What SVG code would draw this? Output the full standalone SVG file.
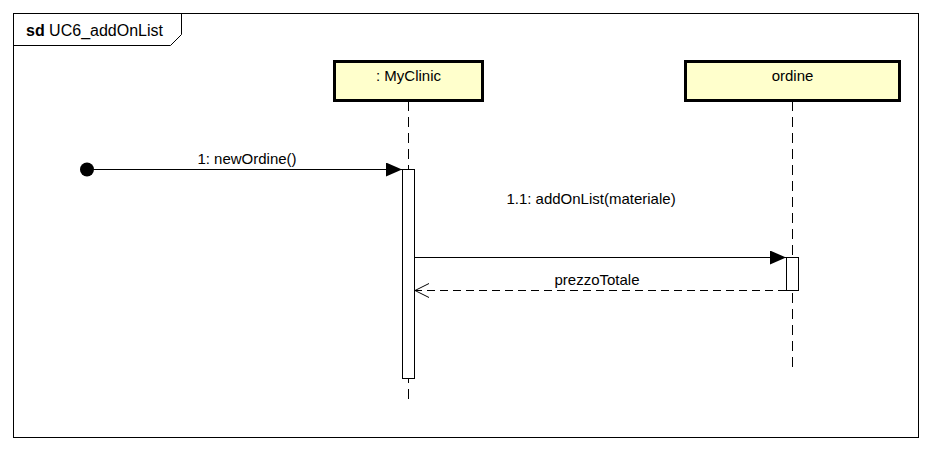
<svg xmlns="http://www.w3.org/2000/svg" width="932" height="452" viewBox="0 0 932 452">
<style>
text{font-family:"Liberation Sans",Arial,sans-serif;font-size:15px;fill:#000}
.box{fill:#ffffcc;stroke:#000;stroke-width:3}
.life{stroke:#000;stroke-width:1;stroke-dasharray:10,6;fill:none}
.act{fill:#fff;stroke:#000;stroke-width:1}
.msg{stroke:#000;stroke-width:1;fill:none}
.ret{stroke:#000;stroke-width:1;fill:none;stroke-dasharray:8,5}
</style>
<defs>
<marker id="filled" markerWidth="16" markerHeight="14" refX="16" refY="7" orient="auto" markerUnits="userSpaceOnUse">
<path d="M0,0 L16,7 L0,14 Z" fill="#000"/>
</marker>
<marker id="open" markerWidth="16" markerHeight="16" refX="15" refY="8" orient="auto" markerUnits="userSpaceOnUse">
<path d="M1,1 L15,8 L1,15" fill="none" stroke="#000" stroke-width="1"/>
</marker>
</defs>
<rect x="0" y="0" width="932" height="452" fill="#fff"/>
<g id="frame">
<rect x="13.5" y="13.5" width="905" height="424" fill="none" stroke="#000"/>
<path d="M13.5,45.5 L170.5,45.5 L181.5,34.5 L181.5,13.5" fill="none" stroke="#000"/>
<text x="26" y="36" style="font-size:16px"><tspan font-weight="bold">sd</tspan> UC6_addOnList</text>
</g>
<g id="myclinic">
<line class="life" x1="408.5" y1="101" x2="408.5" y2="400"/>
<rect class="box" x="334.5" y="61.5" width="148" height="39"/>
<text x="408.5" y="81" text-anchor="middle">: MyClinic</text>
<rect class="act" x="402.5" y="169.5" width="12" height="209"/>
</g>
<g id="ordine">
<line class="life" x1="792.5" y1="101" x2="792.5" y2="372"/>
<rect class="box" x="685.5" y="61.5" width="214" height="39"/>
<text x="792.5" y="81" text-anchor="middle">ordine</text>
<rect class="act" x="786.5" y="257.5" width="12" height="33"/>
</g>
<g id="connectors">
<circle cx="87" cy="169.5" r="7" fill="#000"/>
<line class="msg" x1="87" y1="169.5" x2="402" y2="169.5" marker-end="url(#filled)"/>
<text x="247" y="164" text-anchor="middle">1: newOrdine()</text>
<line class="msg" x1="415" y1="257.5" x2="786" y2="257.5" marker-end="url(#filled)"/>
<text x="591" y="204" text-anchor="middle">1.1: addOnList(materiale)</text>
<line class="ret" x1="786" y1="290.5" x2="415" y2="290.5" marker-end="url(#open)"/>
<text x="597" y="285" text-anchor="middle">prezzoTotale</text>
</g>
</svg>
